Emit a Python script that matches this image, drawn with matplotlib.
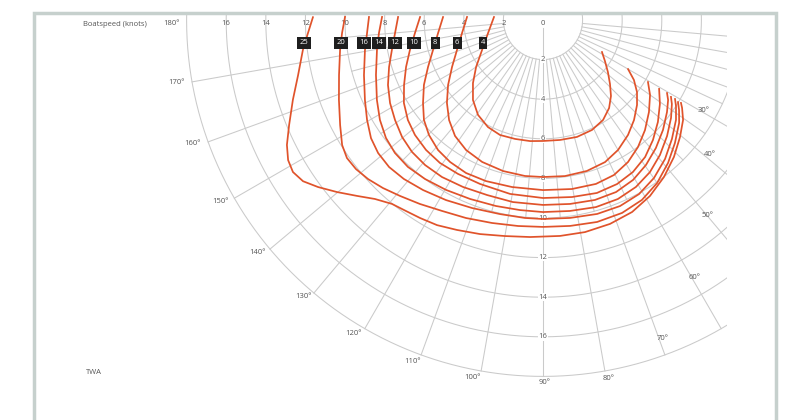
import numpy as np
import matplotlib.pyplot as plt
from matplotlib.patches import Rectangle

plt.rcParams['font.family'] = ['Open Sans', 'DejaVu Sans']

# true wind speeds (knots) of the polar curves
wind = [4, 6, 8, 10, 12, 14, 16, 20, 25]

# true wind angle (deg) and boatspeed (knots)
twa_4 = [183.5, 166.7, 153.8, 144.9, 138.0, 131.2, 124.4, 117.2, 110.5, 103.2, 96.1, 90,
         81.9, 73.8, 66.0, 59.0, 53.1, 48.2, 43.7, 38.7, 33.5, 28.5]
bsp_4 = [2.48, 2.85, 3.43, 4.13, 4.76, 5.37, 5.81, 6.08, 6.2, 6.17, 6.15, 6.11,
         6.12, 6.15, 6.08, 5.89, 5.56, 5.15, 4.68, 4.2, 3.75, 3.39]
twa_6 = [182.3, 170.9, 160.8, 152.7, 145.6, 139.2, 133.2, 127.2, 120.6, 113.2, 104.8, 96.6,
         90, 82.0, 73.8, 66.4, 60.0, 53.5, 47.7, 42.1, 37.45, 33.4, 30.0]
bsp_6 = [3.84, 4.14, 4.6, 5.17, 5.81, 6.41, 6.93, 7.35, 7.63, 7.8, 7.89, 7.93,
         7.93, 7.96, 7.94, 7.83, 7.58, 7.22, 6.83, 6.4, 5.98, 5.5, 4.96]
twa_8 = [181.7, 172.9, 164.7, 157.8, 151.4, 145.3, 140.0, 134.75, 128.9, 123.2, 116.7, 109.5,
         100.5, 90, 80.3, 72.1, 65.4, 59.1, 53.2, 47.2, 41.0, 35.0, 30.6]
bsp_8 = [5.05, 5.34, 5.76, 6.27, 6.85, 7.37, 7.85, 8.18, 8.44, 8.57, 8.65, 8.63,
         8.58, 8.59, 8.66, 8.7, 8.61, 8.36, 8.01, 7.58, 7.09, 6.6, 6.16]
twa_10 = [181.4, 174.2, 167.3, 161.1, 154.9, 149.2, 143.5, 138.1, 132.0, 125.8, 118.9, 111.0,
          100.7, 90, 80.7, 72.7, 65.7, 59.4, 53.3, 47.5, 41.6, 35.7, 30.7]
bsp_10 = [6.21, 6.5, 6.89, 7.31, 7.75, 8.18, 8.49, 8.69, 8.83, 8.9, 8.88, 8.87,
          8.94, 8.99, 9.06, 9.15, 9.09, 8.92, 8.63, 8.22, 7.76, 7.27, 6.82]
twa_12 = [181.2, 175.0, 168.8, 163.0, 157.25, 151.5, 145.95, 140.3, 134.8, 129.1, 122.75,
          115.6, 107.7, 99.4, 90, 81.65, 73.9, 67.0, 60.6, 54.6, 48.6, 42.5, 36.6, 32.6, 30.5]
bsp_12 = [7.32, 7.5, 7.78, 8.13, 8.49, 8.79, 9.02, 9.25, 9.39, 9.44, 9.43,
          9.35, 9.28, 9.32, 9.34, 9.39, 9.46, 9.44, 9.27, 8.98, 8.62, 8.22, 7.8, 7.5, 7.27]
twa_14 = [181.1, 175.5, 169.8, 161.8, 154.3, 148.5, 143.1, 138.1, 132.6, 126.6, 119.7, 112.2,
          104.2, 96.9, 90, 82.0, 74.2, 67.3, 60.9, 54.9, 49.1, 43.1, 37.4, 33.1, 31.0]
bsp_14 = [8.13, 8.31, 8.52, 8.88, 9.31, 9.66, 9.92, 10.05, 10.08, 10.0, 9.88, 9.76,
          9.69, 9.67, 9.7, 9.74, 9.82, 9.8, 9.65, 9.39, 9.02, 8.58, 8.14, 7.77, 7.54]
twa_16 = [181.0, 175.8, 170.4, 162.9, 155.8, 150.4, 145.5, 141.1, 136.3, 131.2, 125.2, 118.3,
          110.7, 102.5, 95.2, 90, 82.2, 74.4, 67.5, 61.1, 54.9, 48.7, 42.7, 36.9, 32.9, 30.9]
bsp_16 = [8.79, 8.91, 9.12, 9.46, 9.86, 10.22, 10.54, 10.7, 10.75, 10.67, 10.51, 10.33,
          10.15, 10.04, 10.04, 10.05, 10.09, 10.17, 10.17, 10.04, 9.75, 9.34, 8.86, 8.4, 8.0,
          7.77]
twa_20 = [180.9, 176.3, 171.6, 164.9, 158.6, 152.6, 148.1, 144.85, 141.45, 137.7, 133.6,
          129.1, 123.8, 117.9, 111.25, 104.1, 96.9, 90, 82.5, 75.0, 67.7, 61.2, 55.0, 48.8,
          43.0, 37.1, 33.5, 31.3]
bsp_20 = [10.0, 10.17, 10.36, 10.67, 11.07, 11.54, 11.95, 12.11, 12.08, 11.94, 11.72,
          11.45, 11.18, 10.91, 10.73, 10.57, 10.48, 10.45, 10.49, 10.56, 10.53, 10.37, 10.05,
          9.59, 9.11, 8.62, 8.24, 7.98]
twa_25 = [180.7, 176.8, 172.9, 167.3, 162.3, 157.5, 154.0, 151.2, 148.7, 146.1, 143.4, 140.1,
          136.6, 133.2, 129.4, 125.6, 121.8, 117.3, 112.3, 106.4, 100.0, 93.4, 85.5, 78.8,
          71.8, 65.1, 58.7, 52.4, 46.3, 40.5, 35.5, 32.3, 31.0]
bsp_25 = [11.62, 11.89, 12.22, 12.68, 13.26, 13.88, 14.39, 14.69, 14.78, 14.6, 14.15, 13.55,
          12.93, 12.4, 12.02, 11.87, 11.77, 11.66, 11.46, 11.27, 11.08, 10.98, 10.94, 10.92,
          10.84, 10.69, 10.4, 10.01, 9.57, 9.1, 8.69, 8.31, 8.13]

curves = {4: (twa_4, bsp_4), 6: (twa_6, bsp_6), 8: (twa_8, bsp_8),
          10: (twa_10, bsp_10), 12: (twa_12, bsp_12), 14: (twa_14, bsp_14),
          16: (twa_16, bsp_16), 20: (twa_20, bsp_20), 25: (twa_25, bsp_25)}

# grid
rings = [2, 4, 6, 8, 10, 12, 14, 16, 18]
spokes = list(range(10, 180, 10))
minor_spokes = list(range(5, 180, 10))
speed_labels = [2, 4, 6, 8, 10, 12, 14, 16]
angle_labels = list(range(30, 190, 10))
# where each angle label sits (angle, radius in knots)
angle_label_a = [29.6, 38.9, 49.8, 59.5, 69.5, 79.6, 89.8, 101.1, 111.0, 121.1,
                 130.9, 140.9, 150.7, 160.6, 170.3, 179.4]
angle_label_r = [9.3, 10.85, 12.9, 15.1, 17.2, 18.4, 18.3, 18.4, 18.45, 18.5,
                 18.5, 18.6, 18.7, 18.75, 18.8, 18.75]

# legend box x positions (knots, along the top)
box_x = [-3.03, -4.34, -5.45, -6.52, -7.47, -8.28, -9.04, -10.2, -12.07]

grid_c = '#cacaca'
line_c = '#e0532b'
txt_c = '#555555'


def xy(angle, r):
    a = np.radians(np.asarray(angle, dtype=float))
    r = np.asarray(r, dtype=float)
    return r * np.cos(a), -r * np.sin(a)


fig = plt.figure(figsize=(7.94, 4.2), dpi=100)
ax = fig.add_axes([0, 0, 1, 1])
scale = 19.8  # px per knot
ax.set_xlim(-543 / scale, 251 / scale)
ax.set_ylim(-400 / scale, 20 / scale)
ax.axis('off')

clip = Rectangle((-30, -30), 30 + 184 / scale, 30 + 5 / scale, transform=ax.transData)

t = np.linspace(-10, 190, 400)
for r in rings:
    gx, gy = xy(t, np.full_like(t, r))
    ln, = ax.plot(gx, gy, color=grid_c, lw=0.75, zorder=1)
    ln.set_clip_path(clip)

for a in spokes:
    gx, gy = xy([a, a], [2, 18])
    ln, = ax.plot(gx, gy, color=grid_c, lw=0.75, zorder=1)
    ln.set_clip_path(clip)
for a in minor_spokes:
    gx, gy = xy([a, a], [2, 10])
    ln, = ax.plot(gx, gy, color=grid_c, lw=0.75, zorder=1)
    ln.set_clip_path(clip)
gx, gy = xy([90, 90], [0.4, 2])
ax.plot(gx, gy, color=grid_c, lw=0.75, zorder=1)

for w in wind:
    a, s = curves[w]
    cx, cy = xy(a, s)
    ln, = ax.plot(cx, cy, color=line_c, lw=1.25, zorder=3, solid_joinstyle='round')
    ln.set_clip_path(clip)

# speed labels down the 90 deg line and along the top
ax.text(0, -0.2, '0', fontsize=5.5, color=txt_c, ha='center', va='center', zorder=2)
for s in speed_labels:
    ax.text(0, -s, str(s), fontsize=5.5, color=txt_c, ha='center', va='center', zorder=2,
            bbox=dict(boxstyle='square,pad=0.05', fc='white', ec='none'))
    ax.text(-s, -0.2, str(s), fontsize=5.5, color=txt_c, ha='center', va='center', zorder=2)

for lab, a, r in zip(angle_labels, angle_label_a, angle_label_r):
    lx, ly = xy(a, r)
    ax.text(lx, ly, f'{lab}°', fontsize=5.5, color=txt_c, ha='center', va='center', zorder=4)

for w, bx in zip(wind, box_x):
    ax.text(bx, -1.16, str(w), fontsize=5.5, color='white', ha='center', va='center',
            zorder=5, bbox=dict(boxstyle='square,pad=0.3', fc='#1e1e1e', ec='none'))

fig.text(115 / 794, 1 - 24 / 420, 'Boatspeed (knots)', fontsize=5.5, color=txt_c,
         ha='center', va='center')
fig.text(94 / 794, 1 - 373 / 420, 'TWA', fontsize=5.5, color=txt_c, ha='center', va='center')

frame = Rectangle((34.3 / 794, -0.05), (775.5 - 34.3) / 794, 1.05 - 13.3 / 420,
                  transform=fig.transFigure, fill=False, ec='#c6d0cd', lw=2.5)
fig.patches.append(frame)

fig.savefig('out.png', dpi=100)
